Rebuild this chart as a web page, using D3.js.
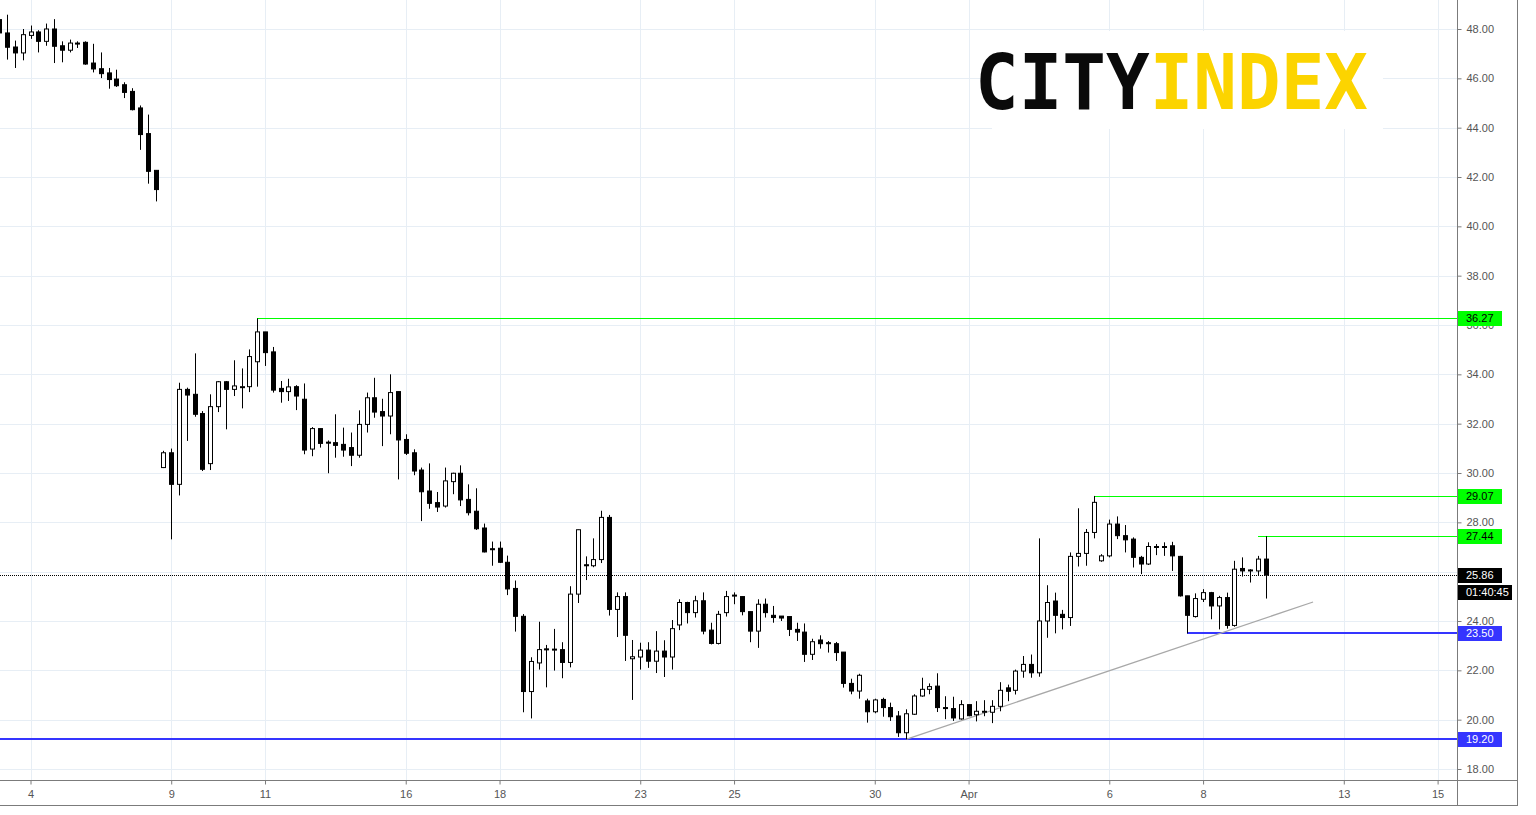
<!DOCTYPE html>
<html><head><meta charset="utf-8">
<script src="https://cdnjs.cloudflare.com/ajax/libs/d3/7.8.5/d3.min.js"></script>
<style>html,body{margin:0;padding:0;background:#fff;overflow:hidden}</style>
</head><body><svg id="c" width="1536" height="815"></svg>
<script>
// ---- DATA ----
const firstIndex = -4; // candle index of the first candle (0 = first candle of 4 March)
const opens  = [48.38,47.84,47.27,47.03,47.74,47.88,47.50,48.00,47.32,47.14,47.43,47.46,46.62,46.39,46.22,45.97,45.74,45.47,44.80,43.76,42.27,
30.22,30.82,29.54,33.39,33.19,32.41,30.38,32.69,33.70,33.39,33.50,33.50,34.51,35.72,34.91,33.43,33.30,33.50,32.99,30.97,31.80,31.25,31.23,31.16,31.03,30.72,31.97,33.05,32.49,32.31,33.30,31.36,30.82,30.12,29.27,28.80,28.66,29.65,29.99,28.93,28.45,27.77,
26.93,26.95,26.38,25.32,24.19,21.14,22.30,22.87,22.86,22.84,22.32,25.09,26.28,26.24,26.49,28.20,24.47,24.99,22.47,22.54,22.82,22.37,22.78,22.54,23.84,24.75,24.34,24.82,23.63,23.09,24.34,25.03,24.99,24.38,23.59,24.68,24.23,24.20,24.18,
23.66,23.55,22.65,23.23,23.12,23.08,22.74,21.47,21.16,20.76,20.32,20.82,20.49,20.15,19.47,20.22,20.96,21.23,21.36,20.49,20.45,20.03,20.61,20.20,20.34,20.30,20.54,21.29,21.19,21.97,22.24,21.90,24.00,24.81,24.27,24.14,26.62,26.74,27.59,
26.44,26.64,27.93,27.46,27.32,26.58,26.31,27.02,27.02,27.05,26.62,25.02,24.18,24.88,25.15,24.61,24.95,23.82,26.13,26.05,26.03,26.51];
const highs  = [48.50,48.58,47.53,48.00,48.14,47.95,48.22,48.40,47.50,47.57,47.50,47.50,47.40,47.05,46.42,46.35,45.84,45.60,44.90,44.53,42.27,
30.90,30.99,33.66,33.46,34.85,32.51,33.19,33.73,33.73,34.57,34.24,35.01,36.27,35.72,35.11,33.73,33.82,33.56,33.63,31.86,31.80,31.32,32.38,31.84,31.64,32.54,33.26,33.86,33.01,34.00,33.30,31.57,30.96,30.22,30.39,29.23,30.22,30.01,30.31,29.54,29.38,27.95,
27.22,27.22,26.65,25.64,24.28,22.53,23.97,23.03,23.68,23.14,25.41,27.70,26.62,27.35,28.47,28.30,25.16,25.16,23.23,23.12,23.14,23.59,23.22,24.04,24.88,24.78,25.02,25.16,23.93,24.41,25.22,25.16,24.99,24.38,24.88,24.91,24.61,24.20,24.18,
23.93,23.90,23.28,23.42,23.19,23.15,22.74,21.66,21.86,20.85,20.85,20.89,20.69,20.35,20.42,21.03,21.70,21.47,21.88,20.95,20.93,20.79,20.61,20.75,20.79,20.79,21.52,21.42,22.03,22.58,22.64,27.35,25.45,25.15,24.45,26.78,28.57,27.73,29.07,
26.71,28.11,28.24,27.89,27.39,26.64,27.19,27.12,27.19,27.21,26.64,25.02,25.12,25.29,25.18,25.02,25.15,26.44,26.58,26.10,26.64,27.44];
const lows   = [47.70,46.76,46.42,46.73,47.60,47.05,47.32,46.62,46.65,47.05,47.23,46.55,46.24,46.01,45.58,45.65,45.20,44.70,43.10,41.73,41.01,
30.20,27.31,29.09,31.30,32.28,30.08,30.12,32.47,31.77,33.12,32.62,33.28,33.50,34.34,33.26,32.85,32.92,32.55,30.76,30.68,31.03,29.99,30.62,30.66,30.28,30.62,31.64,32.24,31.09,31.57,29.74,30.73,29.91,28.05,28.55,28.42,28.60,29.14,28.66,28.28,27.69,26.78,
26.24,26.35,25.05,23.57,20.30,20.05,22.03,21.31,21.99,21.68,22.12,24.73,25.66,26.18,26.35,24.22,23.35,22.38,20.80,22.03,22.10,21.89,21.73,22.03,23.63,23.90,24.14,23.46,23.05,23.05,24.18,24.68,24.23,23.14,22.91,24.14,23.93,24.00,23.39,
23.19,22.34,22.42,22.88,22.72,22.38,21.30,21.03,20.85,19.88,20.26,20.12,19.95,19.30,19.20,20.19,20.93,21.03,20.31,20.02,19.95,20.00,20.14,19.93,20.14,19.86,20.34,20.75,21.02,21.70,21.70,21.74,23.32,23.50,23.66,23.80,26.21,26.24,27.35,
26.40,26.58,27.32,26.78,26.17,25.90,26.27,26.67,26.64,26.03,24.99,23.50,24.14,24.77,24.07,23.66,23.69,23.77,25.80,25.56,25.83,24.91];
const closes = [47.84,47.26,47.03,47.77,47.88,47.50,48.00,47.30,47.14,47.43,47.42,46.58,46.38,46.19,45.95,45.70,45.43,44.73,43.72,42.23,41.49,
30.82,29.54,33.39,33.16,32.38,30.15,32.69,33.70,33.39,33.53,33.50,34.72,35.72,34.88,33.36,33.30,33.49,33.12,30.93,31.80,31.20,31.22,31.12,30.93,30.72,31.97,33.05,32.47,32.31,33.26,31.34,30.80,30.08,29.24,28.77,28.62,29.68,29.99,28.91,28.39,27.74,26.80,
26.90,26.38,25.30,24.19,21.14,22.36,22.84,22.86,22.86,22.32,25.09,27.70,26.25,26.49,28.20,24.47,24.99,23.42,22.55,22.82,22.37,22.78,22.54,23.69,24.75,24.34,24.82,23.59,23.09,24.27,24.99,25.05,24.38,23.59,24.68,24.34,24.14,24.12,23.66,
23.55,22.65,23.16,23.08,23.10,22.72,21.47,21.16,21.80,20.32,20.80,20.49,20.12,19.47,20.24,20.96,21.23,21.34,20.49,20.45,20.07,20.61,20.16,20.34,20.34,20.54,21.19,21.15,21.97,22.24,21.90,24.00,24.75,24.23,24.14,26.62,26.74,27.59,28.81,
26.64,27.93,27.46,27.29,26.58,26.31,27.02,27.02,27.00,26.64,25.02,24.23,24.91,25.15,24.61,24.95,23.82,26.10,26.03,26.07,26.51,25.86];

const priceTicks = [18,20,22,24,26,28,30,32,34,36,38,40,42,44,46,48];
const dayLabels  = ["4","9","11","16","18","23","25","30","Apr","6","8","13","15"];
const dayIndex   = [0,18,30,48,60,78,90,108,120,138,150,168,180];

const levelValues = [36.27, 29.07, 27.44, 23.50, 19.20];
const levelStart  = [29, 136, 157, 148, null];
const levelKind   = ["res","res","res","sup","sup"];
const trendFrom = [112, 19.20];
const trendTo   = [164.07, 24.77];
const lastPrice = 25.86;
const countdown = "01:40:45";
const logoParts = ["CITY", "INDEX"];

// ---- CHART ----
const svg = d3.select("#c");
const plotR = 1457, plotB = 780;
const x = d3.scaleLinear().domain([0, 180]).range([30.5, 1437.6]);
const y = d3.scaleLinear().domain([18, 48]).range([769, 29]);
const font = "'Liberation Sans', Arial, sans-serif";
const gridC = "#e7eef5";
const colors = {res: "#00ff00", sup: "#3535ff"};
const lineW = {res: 1, sup: 2};
const snap = v => Math.round(v) + 0.5;

svg.append("defs").append("clipPath").attr("id","pc")
  .append("rect").attr("x",0).attr("y",0).attr("width",plotR).attr("height",plotB);

const plot = svg.append("g").attr("clip-path","url(#pc)");
// grid
plot.append("g").selectAll("line").data(dayIndex).join("line")
  .attr("x1", d=>snap(x(d))).attr("x2", d=>snap(x(d))).attr("y1",0).attr("y2",plotB)
  .attr("stroke", gridC);
plot.append("g").selectAll("line").data(priceTicks).join("line")
  .attr("y1", d=>snap(y(d))).attr("y2", d=>snap(y(d))).attr("x1",0).attr("x2",plotR)
  .attr("stroke", gridC);

// logo
plot.append("rect").attr("x",992).attr("y",31).attr("width",391).attr("height",98).attr("fill","#fff");
const logo = plot.append("text").attr("x",975).attr("y",109)
  .attr("font-family","'DejaVu Sans Mono', monospace").attr("font-weight","bold")
  .attr("font-size",76).attr("textLength",393).attr("lengthAdjust","spacingAndGlyphs");
logo.append("tspan").attr("fill","#0a0a0a").text(logoParts[0]);
logo.append("tspan").attr("fill","#fcd400").text(logoParts[1]);

// levels
levelValues.forEach((v,k)=>{
  const w = lineW[levelKind[k]];
  const yy = w === 2 ? Math.round(y(v)) : snap(y(v));
  plot.append("line")
    .attr("x1", levelStart[k]===null ? 0 : Math.round(x(levelStart[k])))
    .attr("x2", plotR).attr("y1", yy).attr("y2", yy)
    .attr("stroke", colors[levelKind[k]]).attr("stroke-width", w);
});
// last price dotted
plot.append("line").attr("x1",0).attr("x2",plotR).attr("y1",snap(y(lastPrice))).attr("y2",snap(y(lastPrice)))
  .attr("stroke","#000").attr("stroke-dasharray","1,1");
// trend line
plot.append("line").attr("x1",x(trendFrom[0])).attr("y1",y(trendFrom[1]))
  .attr("x2",x(trendTo[0])).attr("y2",y(trendTo[1])).attr("stroke","#a8a8a8").attr("stroke-width",1.3);

// candles
const candles = opens.map((o,k)=>({i:firstIndex+k,o,h:highs[k],l:lows[k],c:closes[k]}));
const cg = plot.append("g").selectAll("g").data(candles).join("g");
cg.append("line")
  .attr("x1", d=>snap(x(d.i))).attr("x2", d=>snap(x(d.i)))
  .attr("y1", d=>y(d.h)).attr("y2", d=>y(d.l)).attr("stroke","#000");
cg.append("rect")
  .attr("x", d=>Math.round(x(d.i))-1.5).attr("width",4)
  .attr("y", d=>y(Math.max(d.o,d.c)))
  .attr("height", d=>Math.max(1, Math.abs(y(d.o)-y(d.c))))
  .attr("fill", d=>d.c>=d.o ? "#fff" : "#000").attr("stroke","#000");

// axes
svg.append("line").attr("x1",snap(plotR)).attr("x2",snap(plotR)).attr("y1",0).attr("y2",806).attr("stroke","#7b7b7b");
svg.append("line").attr("x1",0).attr("x2",1518).attr("y1",snap(plotB)).attr("y2",snap(plotB)).attr("stroke","#7b7b7b");
const ya = svg.append("g").attr("transform",`translate(${plotR+0.5},0)`)
  .call(d3.axisRight(y).tickValues(priceTicks).tickFormat(d3.format(".2f")).tickSize(4).tickPadding(5));
ya.select(".domain").remove();
ya.selectAll("line").attr("stroke","#7b7b7b");
ya.selectAll("text").attr("fill","#555").attr("font-size",11).attr("font-family",font);
// the last-price tag covers the tick label right under it
ya.selectAll(".tick").filter(d => Math.abs(y(d) - y(lastPrice)) < 9).select("text").remove();
const xa = svg.append("g").attr("transform",`translate(0,${plotB+0.5})`)
  .call(d3.axisBottom(x).tickValues(dayIndex).tickFormat((d,k)=>dayLabels[k]).tickSize(4).tickPadding(6));
xa.select(".domain").remove();
xa.selectAll("line").attr("stroke","#7b7b7b");
xa.selectAll("text").attr("fill","#555").attr("font-size",11).attr("font-family",font);

// price labels
function tag(v, fill, tc, text, w, dy){
  const g = svg.append("g");
  g.append("rect").attr("x",plotR+1).attr("y",Math.round(y(v))-7+dy).attr("width",w).attr("height",15).attr("fill",fill);
  g.append("text").attr("x",plotR+9).attr("y",Math.round(y(v))+4+dy).attr("fill",tc)
    .attr("font-size",11).attr("font-family",font).text(text);
}
levelValues.forEach((v,k)=> tag(v, colors[levelKind[k]], levelKind[k]==="res"?"#000":"#fff", d3.format(".2f")(v), 44, 0));
tag(lastPrice, "#000", "#fff", d3.format(".2f")(lastPrice), 44, 0);
tag(lastPrice, "#000", "#fff", countdown, 54, 17);
// outer border
svg.append("line").attr("x1",snap(1517)).attr("x2",snap(1517)).attr("y1",0).attr("y2",806).attr("stroke","#7b7b7b");
svg.append("line").attr("x1",0).attr("x2",1518).attr("y1",snap(805)).attr("y2",snap(805)).attr("stroke","#7b7b7b");
</script></body></html>
